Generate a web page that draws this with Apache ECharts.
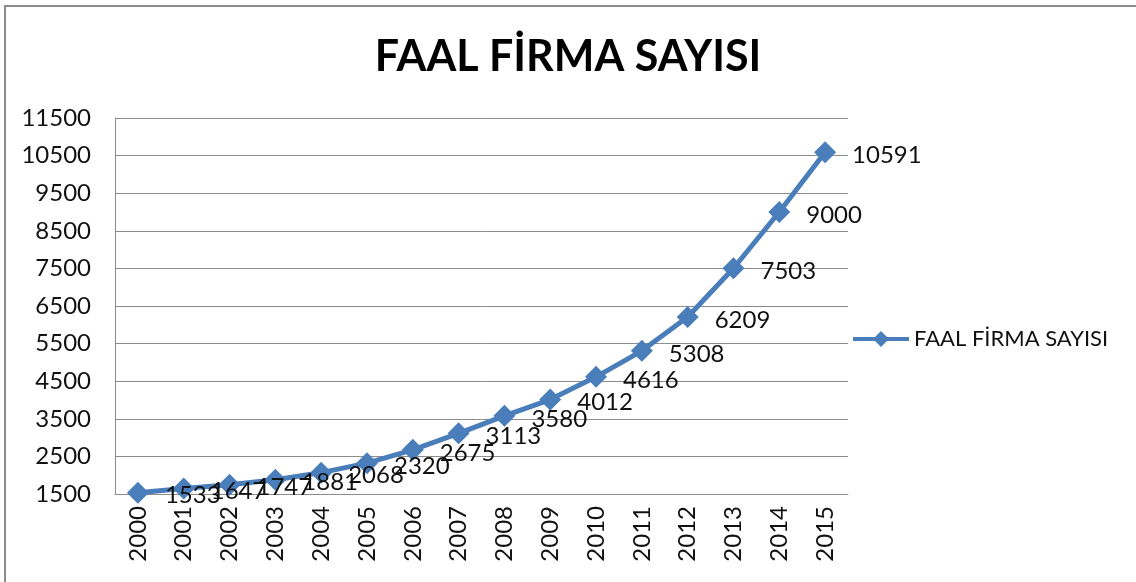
<!DOCTYPE html>
<html>
<head>
<meta charset="utf-8">
<script src="https://cdn.jsdelivr.net/npm/echarts@6/dist/echarts.min.js"></script>
<style>
  html, body { margin: 0; padding: 0; background: #fff; overflow: hidden; }
  #frame { position: absolute; left: 4px; top: 5px; width: 1200px; height: 700px;
           border-left: 2px solid #8c8c8c; border-top: 2px solid #8c8c8c; }
  #main { position: absolute; left: 0; top: 0; width: 1136px; height: 582px; }
</style>
</head>
<body>
<div id="frame"></div>
<div id="main"></div>
<script>
// FAAL FİRMA SAYISI, 2000-2015
var years = ['2000', '2001', '2002', '2003', '2004', '2005', '2006', '2007',
             '2008', '2009', '2010', '2011', '2012', '2013', '2014', '2015'];
var firmCounts = [1533, 1647, 1747, 1881, 2068, 2320, 2675, 3113,
                  3580, 4012, 4616, 5308, 6209, 7503, 9000, 10591];
var seriesName = 'FAAL FİRMA SAYISI';

var chart = echarts.init(document.getElementById('main'));
var font = 'Lato';

option = {
    animation: false,
    title: {
        text: seriesName,
        left: 'center',
        top: 31,
        textStyle: { fontFamily: font, fontSize: 43, fontWeight: 'bold', color: '#000' }
    },
    legend: {
        orient: 'vertical',
        left: 846,
        top: 323,
        itemWidth: 56,
        itemHeight: 20,
        itemGap: 4,
        lineStyle: { width: 4 },
        textStyle: { fontFamily: font, fontSize: 22, color: '#111' },
        data: [seriesName]
    },
    grid: {
        left: 115,
        right: 288,
        top: 118,
        bottom: 88
    },
    xAxis: {
        type: 'category',
        data: years,
        axisTick: { show: false },
        axisLine: { lineStyle: { color: '#8c8c8c', width: 1 } },
        axisLabel: { rotate: 90, margin: 12, fontFamily: font, fontSize: 24, color: '#111' }
    },
    yAxis: {
        type: 'value',
        min: 1500,
        max: 11500,
        interval: 1000,
        axisLine: { show: true, lineStyle: { color: '#8c8c8c', width: 1 } },
        axisTick: { show: false },
        splitLine: { lineStyle: { color: '#8c8c8c', width: 1 } },
        axisLabel: {
            margin: 24,
            fontFamily: font,
            fontSize: 24,
            color: '#111',
            formatter: function (v) { return String(v); }
        }
    },
    series: [{
        name: seriesName,
        type: 'line',
        data: firmCounts,
        symbol: 'diamond',
        symbolSize: 22,
        lineStyle: { color: '#4a7ebb', width: 5 },
        itemStyle: { color: '#4a7ebb' },
        label: {
            show: true,
            position: 'right',
            distance: 16,
            offset: [0, 3],
            fontFamily: font,
            fontSize: 24,
            color: '#111'
        }
    }]
};

chart.setOption(option);
</script>
</body>
</html>
